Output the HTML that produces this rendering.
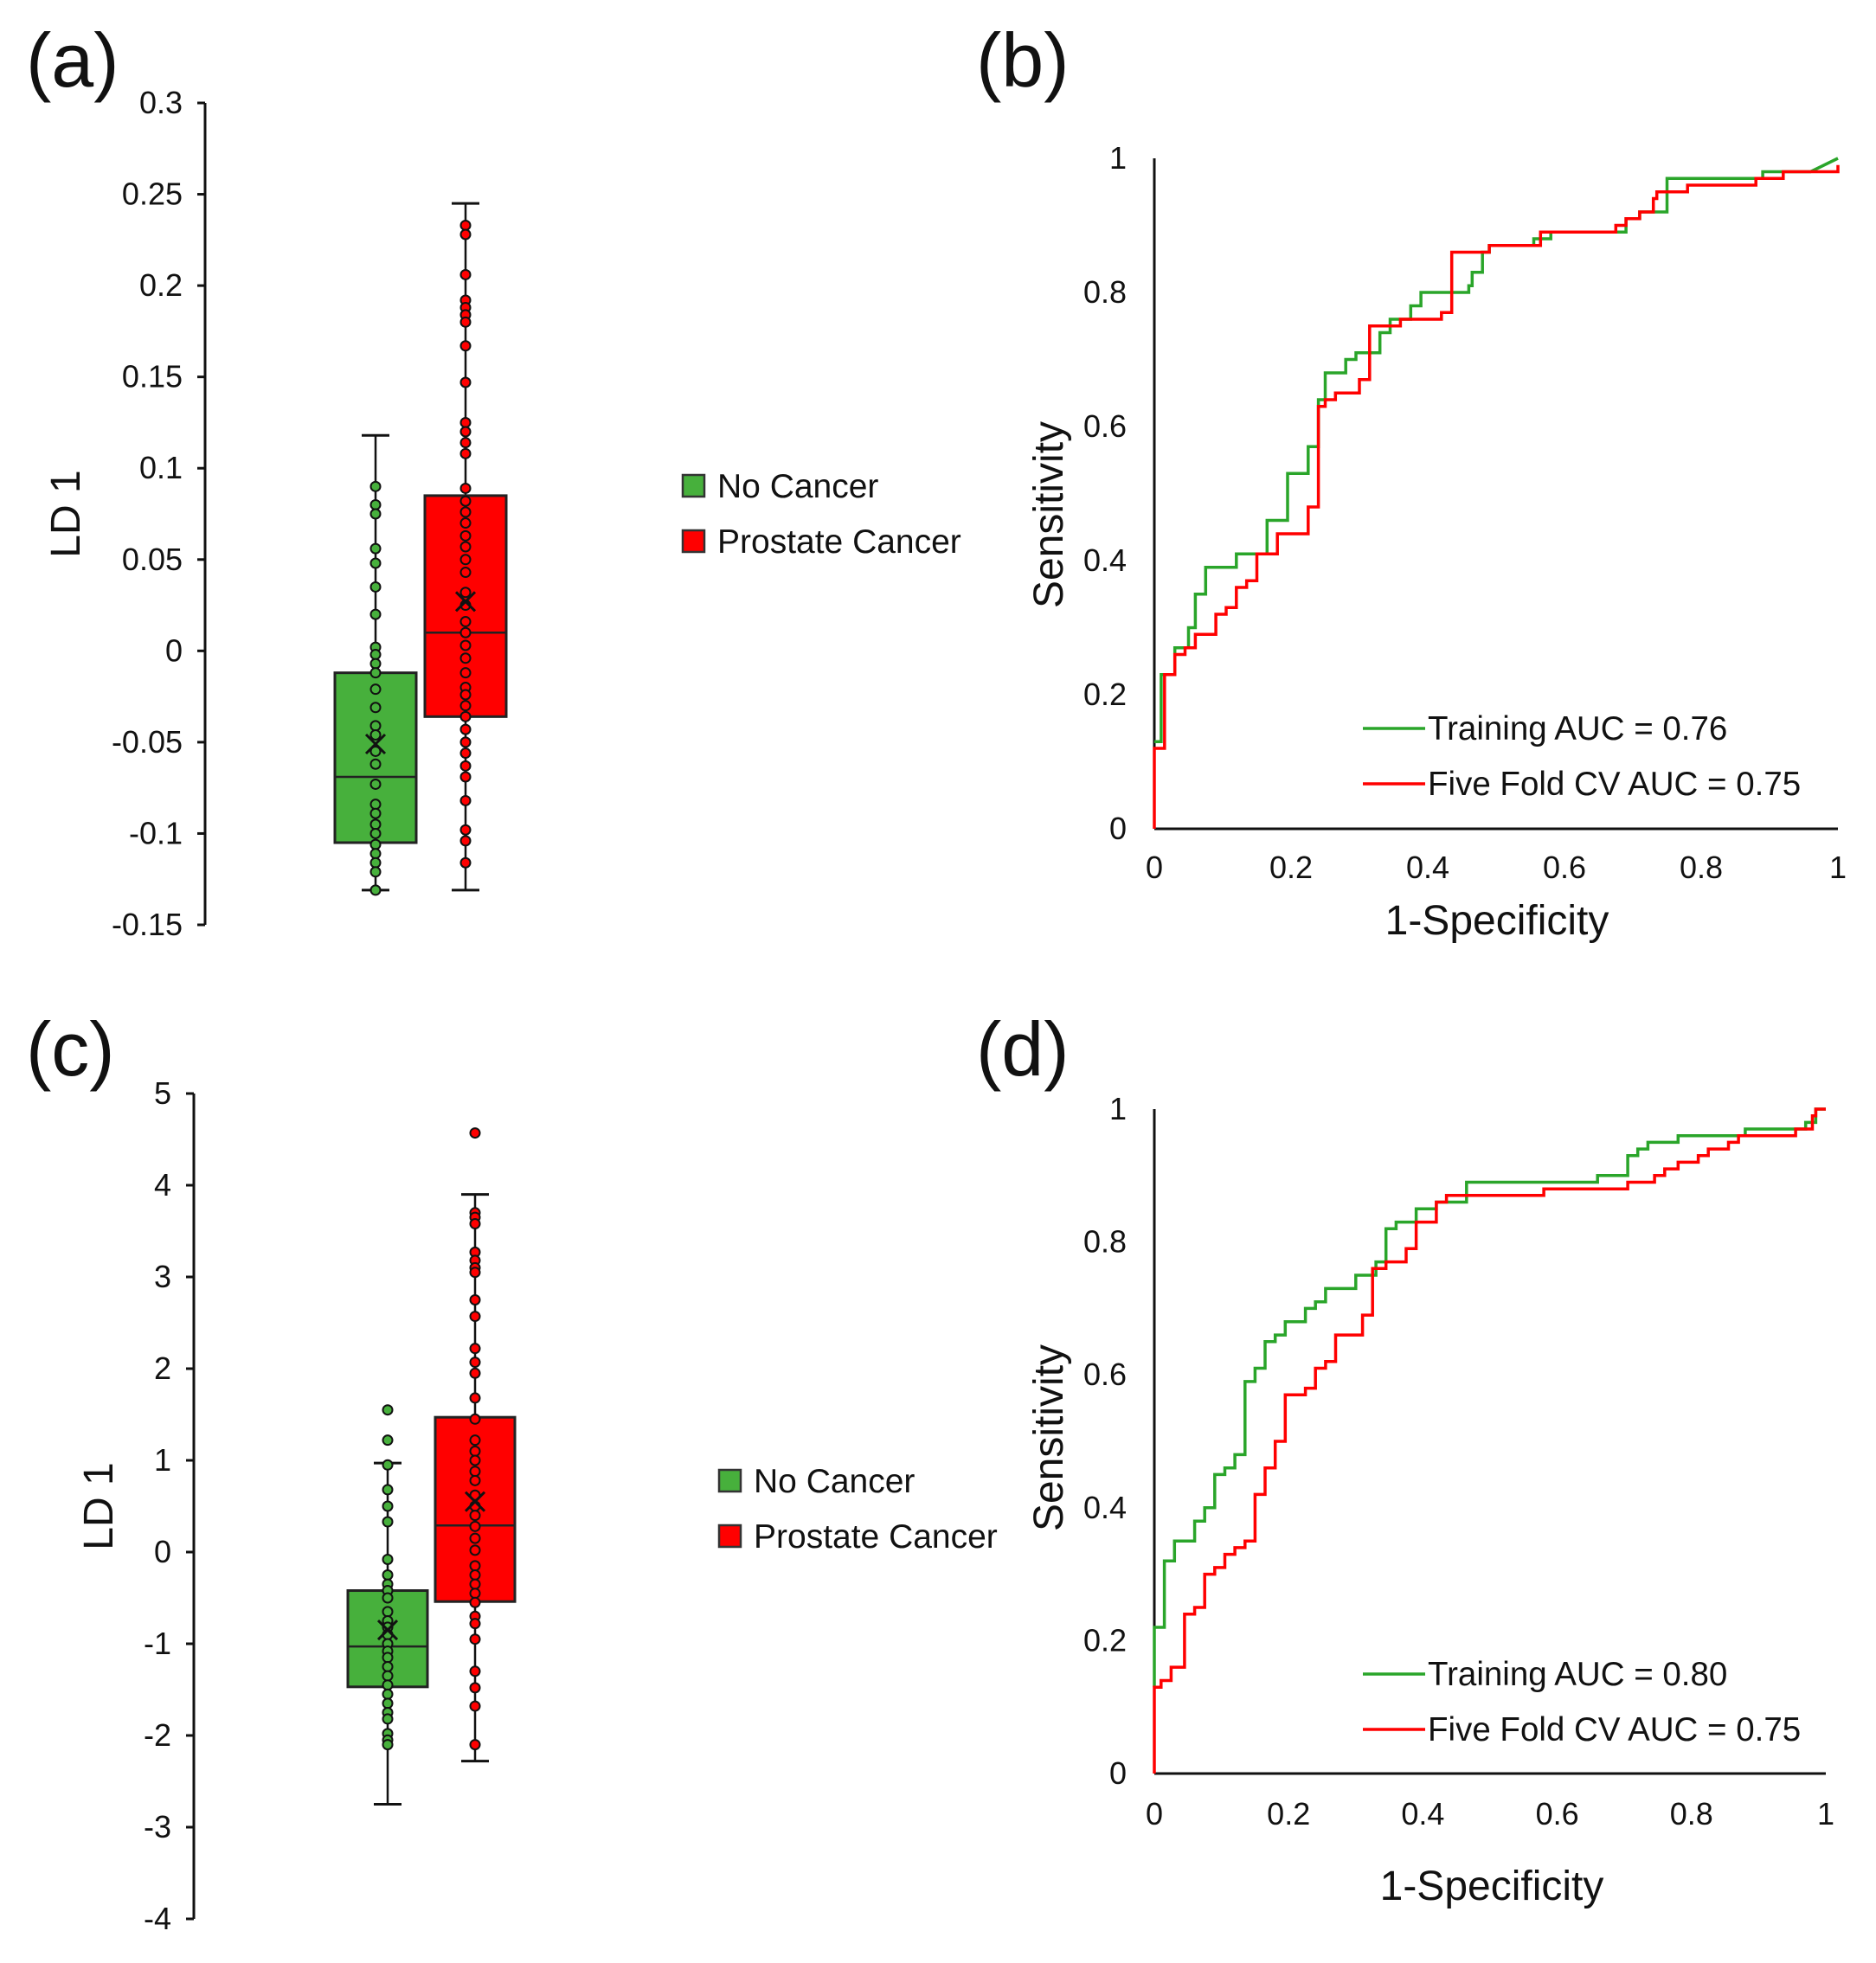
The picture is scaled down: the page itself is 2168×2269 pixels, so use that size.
<!DOCTYPE html>
<html><head><meta charset="utf-8"><style>
html,body{margin:0;padding:0;background:#fff}
svg{display:block}
text{font-family:"Liberation Sans",Arial,sans-serif;fill:#111}
</style></head><body>
<svg id="fig" width="2168" height="2269" viewBox="0 0 2168 2269" xmlns="http://www.w3.org/2000/svg"></svg>
<script>
// ---- Panel (a) data ----
const aTicks = [0.3,0.25,0.2,0.15,0.1,0.05,0,-0.05,-0.1,-0.15];
const aTickLabels = ["0.3","0.25","0.2","0.15","0.1","0.05","0","-0.05","-0.1","-0.15"];
const aNoStats = [-0.131,-0.105,-0.069,-0.012,0.118,-0.051]; // min,q1,med,q3,max,mean
const aPcStats = [-0.131,-0.036,0.010,0.085,0.245,0.027];
const aNoPts = [0.09,0.08,0.075,0.056,0.048,0.035,0.02,0.002,-0.002,-0.007,-0.012,-0.021,-0.031,-0.041,-0.046,-0.055,-0.062,-0.073,-0.084,-0.089,-0.095,-0.1,-0.106,-0.111,-0.116,-0.121,-0.131];
const aPcPts = [0.233,0.228,0.206,0.192,0.188,0.184,0.18,0.167,0.147,0.125,0.12,0.114,0.108,0.089,0.082,0.076,0.07,0.063,0.057,0.05,0.043,0.032,0.025,0.016,0.01,0.003,-0.004,-0.012,-0.02,-0.024,-0.03,-0.036,-0.043,-0.05,-0.056,-0.063,-0.069,-0.082,-0.098,-0.104,-0.116];
// ---- Panel (c) data ----
const cTicks = [5,4,3,2,1,0,-1,-2,-3,-4];
const cTickLabels = ["5","4","3","2","1","0","-1","-2","-3","-4"];
const cNoStats = [-2.75,-1.47,-1.03,-0.42,0.97,-0.85];
const cPcStats = [-2.28,-0.54,0.29,1.47,3.9,0.55];
const cNoPts = [1.55,1.22,0.95,0.68,0.5,0.33,-0.08,-0.25,-0.35,-0.42,-0.5,-0.65,-0.75,-0.82,-0.9,-1.0,-1.08,-1.15,-1.25,-1.35,-1.45,-1.55,-1.65,-1.75,-1.82,-1.98,-2.05,-2.1];
const cPcPts = [4.57,3.7,3.65,3.58,3.27,3.18,3.1,3.05,2.75,2.57,2.22,2.07,1.95,1.68,1.45,1.22,1.1,1.0,0.88,0.78,0.62,0.5,0.4,0.28,0.15,0.02,-0.15,-0.25,-0.35,-0.45,-0.55,-0.7,-0.78,-0.95,-1.3,-1.48,-1.68,-2.1];
// ---- ROC data ----
const rocTicks = [0,0.2,0.4,0.6,0.8,1];
const rocTickLabels = ["0","0.2","0.4","0.6","0.8","1"];
const bTrain = [[0,0.13],[0.01,0.13],[0.01,0.23],[0.03,0.23],[0.03,0.27],[0.05,0.27],[0.05,0.3],[0.06,0.3],[0.06,0.35],[0.075,0.35],[0.075,0.39],[0.12,0.39],[0.12,0.41],[0.165,0.41],[0.165,0.46],[0.195,0.46],[0.195,0.53],[0.225,0.53],[0.225,0.57],[0.24,0.57],[0.24,0.64],[0.25,0.64],[0.25,0.68],[0.28,0.68],[0.28,0.7],[0.295,0.7],[0.295,0.71],[0.33,0.71],[0.33,0.74],[0.345,0.74],[0.345,0.76],[0.375,0.76],[0.375,0.78],[0.39,0.78],[0.39,0.8],[0.46,0.8],[0.46,0.81],[0.465,0.81],[0.465,0.83],[0.48,0.83],[0.48,0.86],[0.49,0.86],[0.49,0.87],[0.555,0.87],[0.555,0.88],[0.58,0.88],[0.58,0.89],[0.69,0.89],[0.69,0.91],[0.71,0.91],[0.71,0.92],[0.75,0.92],[0.75,0.97],[0.89,0.97],[0.89,0.98],[0.96,0.98],[1,1]];
const bCV = [[0,0],[0,0.12],[0.015,0.12],[0.015,0.23],[0.03,0.23],[0.03,0.26],[0.045,0.26],[0.045,0.27],[0.06,0.27],[0.06,0.29],[0.09,0.29],[0.09,0.32],[0.105,0.32],[0.105,0.33],[0.12,0.33],[0.12,0.36],[0.135,0.36],[0.135,0.37],[0.15,0.37],[0.15,0.41],[0.18,0.41],[0.18,0.44],[0.225,0.44],[0.225,0.48],[0.24,0.48],[0.24,0.63],[0.25,0.63],[0.25,0.64],[0.265,0.64],[0.265,0.65],[0.3,0.65],[0.3,0.67],[0.315,0.67],[0.315,0.75],[0.36,0.75],[0.36,0.76],[0.42,0.76],[0.42,0.77],[0.435,0.77],[0.435,0.86],[0.49,0.86],[0.49,0.87],[0.565,0.87],[0.565,0.89],[0.675,0.89],[0.675,0.9],[0.69,0.9],[0.69,0.91],[0.71,0.91],[0.71,0.92],[0.73,0.92],[0.73,0.94],[0.735,0.94],[0.735,0.95],[0.78,0.95],[0.78,0.96],[0.88,0.96],[0.88,0.97],[0.92,0.97],[0.92,0.98],[1,0.98],[1,0.99]];
const dTrain = [[0,0.13],[0,0.22],[0.015,0.22],[0.015,0.32],[0.03,0.32],[0.03,0.35],[0.06,0.35],[0.06,0.38],[0.075,0.38],[0.075,0.4],[0.09,0.4],[0.09,0.45],[0.105,0.45],[0.105,0.46],[0.12,0.46],[0.12,0.48],[0.135,0.48],[0.135,0.59],[0.15,0.59],[0.15,0.61],[0.165,0.61],[0.165,0.65],[0.18,0.65],[0.18,0.66],[0.195,0.66],[0.195,0.68],[0.225,0.68],[0.225,0.7],[0.24,0.7],[0.24,0.71],[0.255,0.71],[0.255,0.73],[0.3,0.73],[0.3,0.75],[0.33,0.75],[0.33,0.77],[0.345,0.77],[0.345,0.82],[0.36,0.82],[0.36,0.83],[0.39,0.83],[0.39,0.85],[0.42,0.85],[0.42,0.86],[0.465,0.86],[0.465,0.89],[0.66,0.89],[0.66,0.9],[0.705,0.9],[0.705,0.93],[0.72,0.93],[0.72,0.94],[0.735,0.94],[0.735,0.95],[0.78,0.95],[0.78,0.96],[0.88,0.96],[0.88,0.97],[0.97,0.97],[0.97,0.98],[0.985,0.98],[0.985,1],[1,1]];
const dCV = [[0,0],[0,0.13],[0.01,0.13],[0.01,0.14],[0.025,0.14],[0.025,0.16],[0.045,0.16],[0.045,0.24],[0.06,0.24],[0.06,0.25],[0.075,0.25],[0.075,0.3],[0.09,0.3],[0.09,0.31],[0.105,0.31],[0.105,0.33],[0.12,0.33],[0.12,0.34],[0.135,0.34],[0.135,0.35],[0.15,0.35],[0.15,0.42],[0.165,0.42],[0.165,0.46],[0.18,0.46],[0.18,0.5],[0.195,0.5],[0.195,0.57],[0.225,0.57],[0.225,0.58],[0.24,0.58],[0.24,0.61],[0.255,0.61],[0.255,0.62],[0.27,0.62],[0.27,0.66],[0.31,0.66],[0.31,0.69],[0.325,0.69],[0.325,0.76],[0.345,0.76],[0.345,0.77],[0.375,0.77],[0.375,0.79],[0.39,0.79],[0.39,0.83],[0.42,0.83],[0.42,0.86],[0.435,0.86],[0.435,0.87],[0.58,0.87],[0.58,0.88],[0.705,0.88],[0.705,0.89],[0.745,0.89],[0.745,0.9],[0.76,0.9],[0.76,0.91],[0.78,0.91],[0.78,0.92],[0.81,0.92],[0.81,0.93],[0.825,0.93],[0.825,0.94],[0.855,0.94],[0.855,0.95],[0.87,0.95],[0.87,0.96],[0.955,0.96],[0.955,0.97],[0.98,0.97],[0.98,0.99],[0.985,0.99],[0.985,1],[1,1]];
const bLegend = ["Training AUC = 0.76","Five Fold CV AUC = 0.75"];
const dLegend = ["Training AUC = 0.80","Five Fold CV AUC = 0.75"];

const NS="http://www.w3.org/2000/svg";
const svg=document.getElementById('fig');
function el(tag,attrs,parent,txt){const e=document.createElementNS(NS,tag);for(const k in attrs)e.setAttribute(k,attrs[k]);if(txt!==undefined)e.textContent=txt;(parent||svg).appendChild(e);return e;}
const GREEN="#47b03c", RED="#ff0000";

function label(txt,x,y){const t=el('text',{x:x,y:y,'font-size':88},svg,txt);

}

function boxPanel(cfg){
  const g=el('g',{});
  
  
  const y=v=>cfg.yTop+(cfg.ticks[0]-v)/(cfg.ticks[0]-cfg.ticks[cfg.ticks.length-1])*(cfg.yBot-cfg.yTop);
  const ax=el('line',{x1:cfg.ax,y1:y(cfg.ticks[0]),x2:cfg.ax,y2:y(cfg.ticks[cfg.ticks.length-1]),stroke:'#111','stroke-width':3},g);
  
  
  cfg.ticks.forEach((v,i)=>{
    el('line',{x1:cfg.ax-9,y1:y(v),x2:cfg.ax,y2:y(v),stroke:'#111','stroke-width':3},g);
    const t=el('text',{x:cfg.ax-26,y:y(v)+12,'text-anchor':'end','font-size':36},g,cfg.labels[i]);
    
    
  });
  const yt=el('text',{transform:`translate(${cfg.titleX},${(y(cfg.ticks[0])+y(cfg.ticks[cfg.ticks.length-1]))/2}) rotate(-90)`,'text-anchor':'middle','font-size':48},g,'LD 1');
  
  
  [[cfg.noStats,cfg.noPts,cfg.cx1,GREEN,'no-cancer'],[cfg.pcStats,cfg.pcPts,cfg.cx2,RED,'prostate-cancer']].forEach(([s,pts,cx,col,nm])=>{
    const hw=cfg.bw/2;
    el('line',{x1:cx,y1:y(s[0]),x2:cx,y2:y(s[4]),stroke:'#111','stroke-width':2.5},g);
    el('line',{x1:cx-16,y1:y(s[0]),x2:cx+16,y2:y(s[0]),stroke:'#111','stroke-width':3},g);
    el('line',{x1:cx-16,y1:y(s[4]),x2:cx+16,y2:y(s[4]),stroke:'#111','stroke-width':3},g);
    const b=el('rect',{x:cx-hw,y:y(s[3]),width:cfg.bw,height:y(s[1])-y(s[3]),fill:col,stroke:'#222','stroke-width':3},g);
    
    
    el('line',{x1:cx-hw,y1:y(s[2]),x2:cx+hw,y2:y(s[2]),stroke:'#222','stroke-width':2.5},g);
    pts.forEach(v=>{
      const c=el('circle',{cx:cx,cy:y(v),r:5.5,fill:col,stroke:'#111','stroke-width':2},g);
      
      
    });
    const my=y(s[5]);
    el('path',{d:`M${cx-11} ${my-11}L${cx+11} ${my+11}M${cx+11} ${my-11}L${cx-11} ${my+11}`,stroke:'#111','stroke-width':3},g);
  });
  [['No Cancer',GREEN],['Prostate Cancer',RED]].forEach(([t,col],i)=>{
    const ly=cfg.legY+i*64;
    const r=el('rect',{x:cfg.legX,y:ly,width:25,height:25,fill:col,stroke:'#333','stroke-width':2.5},g);
    
    
    const tx=el('text',{x:cfg.legX+40,y:ly+26,'font-size':39},g,t);
    
    
  });
}

function rocPanel(cfg){
  const g=el('g',{});
  
  
  const X=v=>cfg.x0+v*(cfg.x1-cfg.x0), Y=v=>cfg.y0-v*(cfg.y0-cfg.y1);
  const ya=el('line',{x1:X(0),y1:Y(1),x2:X(0),y2:Y(0),stroke:'#111','stroke-width':3},g);
  
  
  const xa=el('line',{x1:X(0),y1:Y(0),x2:X(1),y2:Y(0),stroke:'#111','stroke-width':3},g);
  
  
  rocTicks.forEach((v,i)=>{
    const t=el('text',{x:X(0)-32,y:Y(v)+12,'text-anchor':'end','font-size':36},g,rocTickLabels[i]);
    
    
    const t2=el('text',{x:X(v),y:cfg.xLabY,'text-anchor':'middle','font-size':36},g,rocTickLabels[i]);
    
    
  });
  const xt=el('text',{x:cfg.xtX,y:cfg.xtY,'text-anchor':'middle','font-size':48},g,'1-Specificity');
  
  
  const yt=el('text',{transform:`translate(${cfg.ytX},${cfg.ytY}) rotate(-90)`,'text-anchor':'middle','font-size':48},g,'Sensitivity');
  
  
  [[cfg.train,'#2aa52a','training-roc-line'],[cfg.cv,RED,'cv-roc-line']].forEach(([pts,col,nm])=>{
    const p=el('polyline',{points:pts.map(q=>X(q[0]).toFixed(1)+','+Y(q[1]).toFixed(1)).join(' '),fill:'none',stroke:col,'stroke-width':3.5},g);
    
    
  });
  [['#2aa52a',cfg.legend[0]],[RED,cfg.legend[1]]].forEach(([col,t],i)=>{
    const ly=cfg.legY+i*64;
    el('line',{x1:1575,y1:ly,x2:1647,y2:ly,stroke:col,'stroke-width':3.5},g);
    const tx=el('text',{x:1650,y:ly+13,'font-size':38.5},g,t);
    
    
  });
}

label('(a)',30,100);
label('(b)',1128,100);
label('(c)',30,1243);
label('(d)',1128,1243);

boxPanel({name:'boxplot-a',ax:237,yTop:119,yBot:1069,ticks:aTicks,labels:aTickLabels,titleX:92,
  noStats:aNoStats,pcStats:aPcStats,noPts:aNoPts,pcPts:aPcPts,cx1:434,cx2:538,bw:94,legX:789,legY:549});
boxPanel({name:'boxplot-c',ax:224,yTop:1264,yBot:2218,ticks:cTicks,labels:cTickLabels,titleX:130,
  noStats:cNoStats,pcStats:cPcStats,noPts:cNoPts,pcPts:cPcPts,cx1:448,cx2:549,bw:92,legX:831,legY:1699});
rocPanel({name:'roc-b',x0:1334,x1:2124,y0:958,y1:183,train:bTrain,cv:bCV,xLabY:1015,xtX:1730,xtY:1080,ytX:1228,ytY:595,legend:bLegend,legY:842});
rocPanel({name:'roc-d',x0:1334,x1:2110,y0:2050,y1:1282,train:dTrain,cv:dCV,xLabY:2109,xtX:1724,xtY:2196,ytX:1228,ytY:1662,legend:dLegend,legY:1935});
</script>
</body></html>
